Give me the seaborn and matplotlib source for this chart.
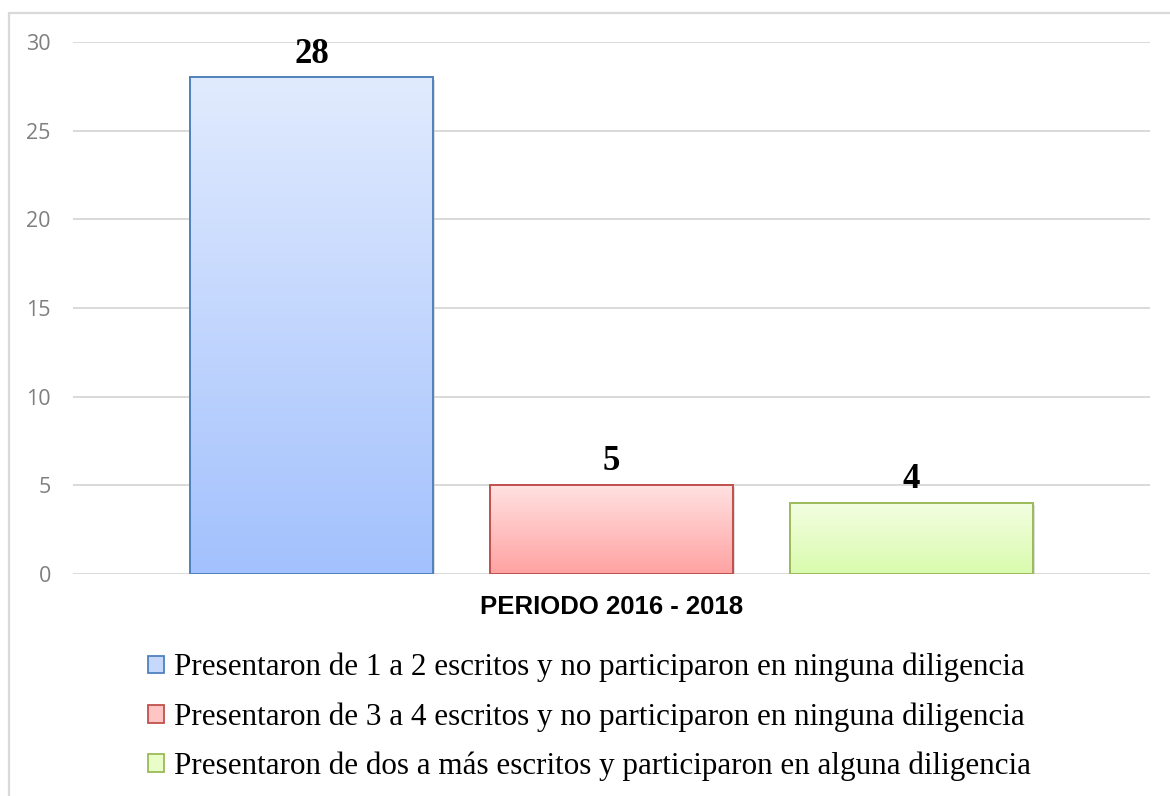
import numpy as np
import pandas as pd
import matplotlib
matplotlib.use("Agg")
import matplotlib.pyplot as plt
import seaborn as sns
from matplotlib.patches import Patch
from matplotlib.colors import LinearSegmentedColormap
from matplotlib.lines import Line2D

# --- Data ---
categories = [
    "Presentaron de 1 a 2 escritos y no participaron en ninguna diligencia",
    "Presentaron de 3 a 4 escritos y no participaron en ninguna diligencia",
    "Presentaron de dos a más escritos y participaron en alguna diligencia",
]
values = [28, 5, 4]
period_label = "PERIODO 2016 - 2018"
y_ticks = [0, 5, 10, 15, 20, 25, 30]

# --- Styles ---
grad_top = ["#E1EBFD", "#FFE1E1", "#F3FEE1"]
grad_bottom = ["#A3C1FE", "#FFA2A2", "#D9FBAD"]
edge_colors = ["#4F81BD", "#C0504D", "#9BBB59"]
legend_fill = ["#C6D8FB", "#FFC4C4", "#E8FDC8"]

df = pd.DataFrame({"categoria": categories, "valor": values})

sns.set_theme(style="white")
fig = plt.figure(figsize=(11.7, 7.96), dpi=100)
ax = fig.add_axes([73 / 1170, 1 - 574 / 796, (1150 - 73) / 1170, (574 - 42) / 796])

sns.barplot(data=df, x="categoria", y="valor", hue="categoria", order=categories,
            hue_order=categories, palette=legend_fill, width=0.81, dodge=False,
            legend=False, ax=ax, zorder=2)

# gradient fill clipped to each bar
for i, bar in enumerate(ax.patches):
    x0, y0 = bar.get_x(), bar.get_y()
    w, h = bar.get_width(), bar.get_height()
    cmap = LinearSegmentedColormap.from_list(f"g{i}", [grad_bottom[i], grad_top[i]])
    grad = np.linspace(0, 1, 256).reshape(-1, 1)
    im = ax.imshow(grad, cmap=cmap, origin="lower", aspect="auto",
                   extent=[x0, x0 + w, y0, y0 + h], zorder=2.1)
    im.set_clip_path(bar)
    bar.set_facecolor("none")
    bar.set_edgecolor(edge_colors[i])
    bar.set_linewidth(1.4)
    bar.set_zorder(2.2)
    # soft shadow
    ax.add_patch(plt.Rectangle((x0 + 0.006, y0 - 0.12), w, h, facecolor="#C8C8C8",
                               edgecolor="none", zorder=1.9, alpha=0.6))
    ax.annotate(str(values[i]), (x0 + w / 2, y0 + h), xytext=(0, 5),
                textcoords="offset points", ha="center", va="bottom",
                fontsize=25, fontweight="bold", family="Liberation Serif", color="black")

ax.set_xlim(-0.795, 2.795)
ax.set_ylim(0, 30)

ax.set_yticks(y_ticks)
ax.set_yticklabels([str(t) for t in y_ticks], color="#7F7F7F", fontsize=15.5, family="Open Sans")
ax.set_xticks([])
ax.set_xlabel("")
ax.set_ylabel("")
ax.tick_params(axis="y", length=0, pad=16)
ax.yaxis.grid(True, color="#D9D9D9", linewidth=1.4, zorder=0)
ax.set_axisbelow(True)
for s in ax.spines.values():
    s.set_visible(False)

fig.text(612 / 1170, 1 - 607 / 796, period_label, ha="center", va="center",
         fontsize=18.5, fontweight="bold", family="Liberation Sans", color="black")

handles = [Patch(facecolor=legend_fill[i], edgecolor=edge_colors[i], linewidth=1.3)
           for i in range(3)]
leg = fig.legend(handles, categories, loc="upper left", bbox_to_anchor=(148 / 1170, 1 - 653 / 796),
                 frameon=False, borderpad=0, borderaxespad=0, handlelength=0.5, handleheight=0.5,
                 handletextpad=0.32, labelspacing=0.64,
                 prop={"family": "Liberation Serif", "size": 22.4})
for t in leg.get_texts():
    t.set_color("black")

# outer frame (left and top edges)
fig.add_artist(Line2D([9 / 1170, 9 / 1170], [0, 1 - 13 / 796], color="#D9D9D9", linewidth=1.6))
fig.add_artist(Line2D([9 / 1170, 1], [1 - 13 / 796, 1 - 13 / 796], color="#D9D9D9", linewidth=1.6))

fig.savefig("out.png", dpi=100)
